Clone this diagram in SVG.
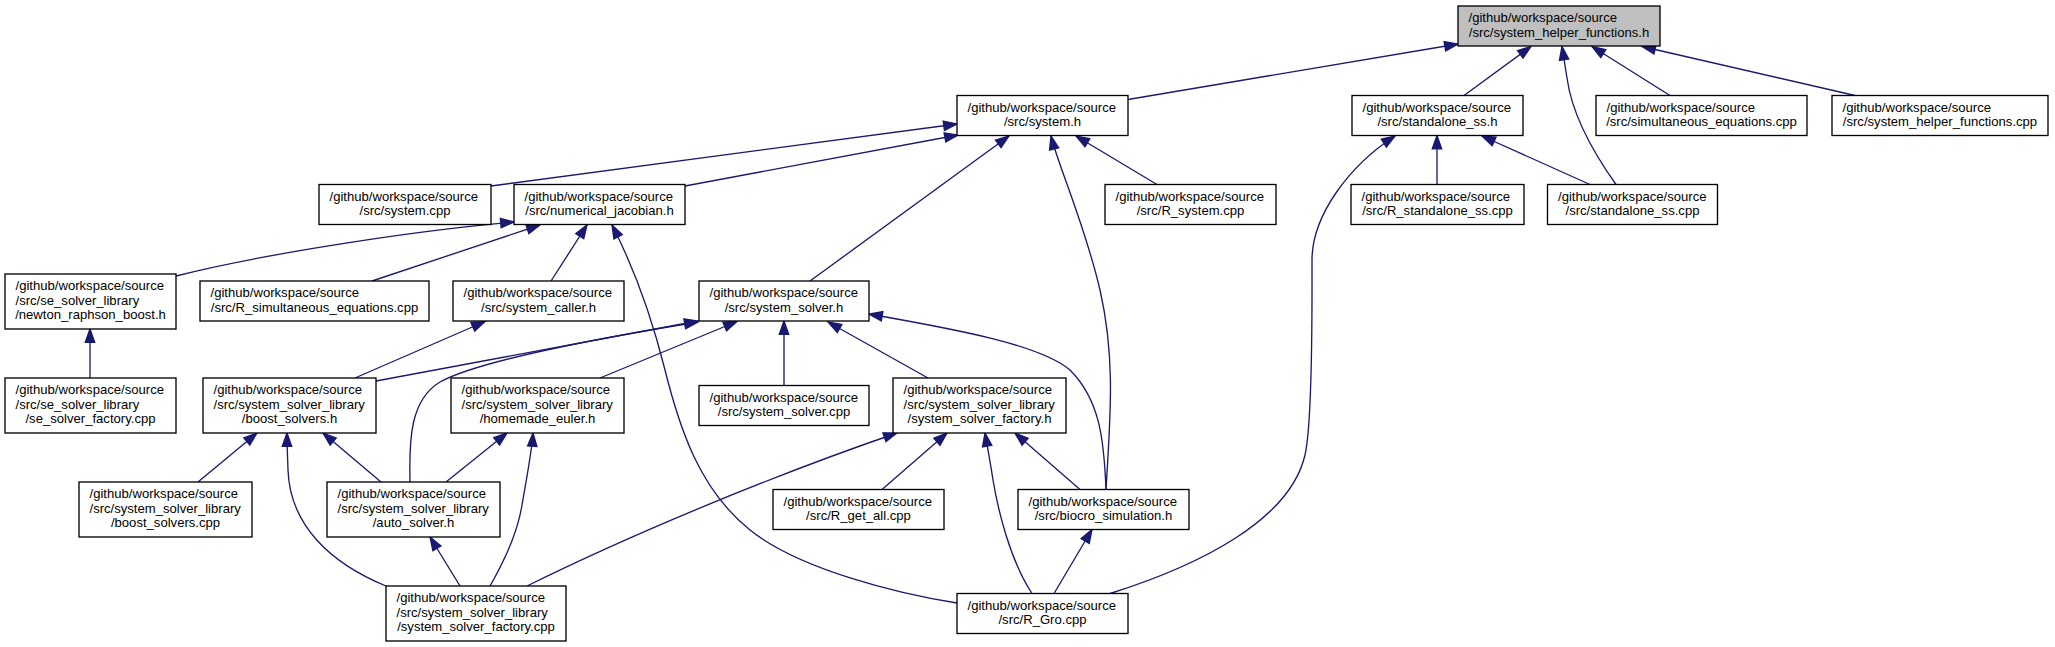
<svg xmlns="http://www.w3.org/2000/svg" width="2055" height="647" viewBox="0 0 2055 647">
<style>
.node rect{fill:#ffffff;stroke:#000000;stroke-width:1.33}
.node.root rect{fill:#bfbfbf}
.node text{font-family:"Liberation Sans",Arial,Helvetica,sans-serif;font-size:13.1px;fill:#000000}
.node text.c{text-anchor:middle}
.edges path{fill:none;stroke:#191970;stroke-width:1.33;marker-end:url(#arr)}
</style>
<defs>
<marker id="arr" markerUnits="userSpaceOnUse" markerWidth="16" markerHeight="12" refX="13.3" refY="4.7" orient="auto" overflow="visible">
<path d="M0,0 L13.3,4.7 L0,9.4 Z" fill="#191970" stroke="#191970" stroke-width="1.33"/>
</marker>
</defs>
<rect x="0" y="0" width="2055" height="647" fill="#ffffff"/>
<g class="edges">
<path d="M1128,99.5 L1458,44"/>
<path d="M1464,95.5 L1531,46.5"/>
<path d="M1616,184.5 C1595,155 1572,115 1567,78 L1562,46.5"/>
<path d="M1670,95.5 L1592,46.5"/>
<path d="M1855,95.5 L1642,46.5"/>
<path d="M491,186 L957,124"/>
<path d="M685,186 L958,135"/>
<path d="M810,281 L1009,136"/>
<path d="M1106,489.5 C1110,420 1116,360 1100,290 C1085,225 1058,165 1051,136"/>
<path d="M1157,184.5 L1076,136"/>
<path d="M1437,184.5 L1437,135.5"/>
<path d="M1590,184.5 L1482,136"/>
<path d="M1110,593.5 C1200,565 1290,520 1305,455 C1313,420 1312,300 1312,260 C1312,215 1350,165 1395,136"/>
<path d="M176,276 C250,257 400,232 514,222"/>
<path d="M372,281 L540,225"/>
<path d="M551,281 L587,225"/>
<path d="M957,603 C900,594 800,570 750,530 C700,490 680,430 665,370 C650,310 630,260 612,225"/>
<path d="M90,378 L90,329"/>
<path d="M355,378 L485,321.5"/>
<path d="M376,381 L698,321"/>
<path d="M410,482 C409,440 410,400 440,382 C480,360 600,338 698,322"/>
<path d="M600,378 L737,321.5"/>
<path d="M784,385.5 L784,321"/>
<path d="M928,378 L828,322"/>
<path d="M1106,489.5 C1104,440 1100,400 1070,370 C1040,345 960,330 869,314"/>
<path d="M198,482 L257,433"/>
<path d="M381,482 L323,433"/>
<path d="M386,586 C330,563 290,525 288,470 C287.5,455 287,445 287,433"/>
<path d="M446,482 L507,433"/>
<path d="M490,586 C505,560 518,530 522,505 C528,470 532,450 533,433"/>
<path d="M460,586 L430,537"/>
<path d="M527,586 C620,540 760,480 897,433"/>
<path d="M882,489.5 L947,433"/>
<path d="M1080,489.5 L1015,433"/>
<path d="M1032,593.5 C1010,560 998,510 993,480 C990,460 987,445 985,433"/>
<path d="M1054,593.5 L1092,529.5"/>
</g>
<g id="node_system_helper_functions_h" class="node root"><rect x="1458" y="6" width="202" height="40"/><text x="1468.5" y="22">/github/workspace/source</text><text class="c" x="1559" y="36.65">/src/system_helper_functions.h</text></g>
<g id="node_system_h" class="node"><rect x="957" y="95.5" width="171" height="40"/><text x="967.5" y="111.5">/github/workspace/source</text><text class="c" x="1042.5" y="126.15">/src/system.h</text></g>
<g id="node_standalone_ss_h" class="node"><rect x="1352" y="95.5" width="171" height="40"/><text x="1362.5" y="111.5">/github/workspace/source</text><text class="c" x="1437.5" y="126.15">/src/standalone_ss.h</text></g>
<g id="node_simultaneous_equations_cpp" class="node"><rect x="1596" y="95.5" width="211" height="40"/><text x="1606.5" y="111.5">/github/workspace/source</text><text class="c" x="1701.5" y="126.15">/src/simultaneous_equations.cpp</text></g>
<g id="node_system_helper_functions_cpp" class="node"><rect x="1832" y="95.5" width="216" height="40"/><text x="1842.5" y="111.5">/github/workspace/source</text><text class="c" x="1940" y="126.15">/src/system_helper_functions.cpp</text></g>
<g id="node_system_cpp" class="node"><rect x="319" y="184.5" width="172" height="40"/><text x="329.5" y="200.5">/github/workspace/source</text><text class="c" x="405" y="215.15">/src/system.cpp</text></g>
<g id="node_numerical_jacobian_h" class="node"><rect x="514" y="184.5" width="171" height="40"/><text x="524.5" y="200.5">/github/workspace/source</text><text class="c" x="599.5" y="215.15">/src/numerical_jacobian.h</text></g>
<g id="node_R_system_cpp" class="node"><rect x="1105" y="184.5" width="171" height="40"/><text x="1115.5" y="200.5">/github/workspace/source</text><text class="c" x="1190.5" y="215.15">/src/R_system.cpp</text></g>
<g id="node_R_standalone_ss_cpp" class="node"><rect x="1351" y="184.5" width="173" height="40"/><text x="1361.5" y="200.5">/github/workspace/source</text><text class="c" x="1437.5" y="215.15">/src/R_standalone_ss.cpp</text></g>
<g id="node_standalone_ss_cpp" class="node"><rect x="1547.5" y="184.5" width="170" height="40"/><text x="1558" y="200.5">/github/workspace/source</text><text class="c" x="1632.5" y="215.15">/src/standalone_ss.cpp</text></g>
<g id="node_newton_raphson_boost_h" class="node"><rect x="5" y="274" width="171" height="55"/><text x="15.5" y="290">/github/workspace/source</text><text x="15.5" y="304.65">/src/se_solver_library</text><text class="c" x="90.5" y="319.3">/newton_raphson_boost.h</text></g>
<g id="node_R_simultaneous_equations_cpp" class="node"><rect x="200" y="281" width="229" height="40"/><text x="210.5" y="297">/github/workspace/source</text><text class="c" x="314.5" y="311.65">/src/R_simultaneous_equations.cpp</text></g>
<g id="node_system_caller_h" class="node"><rect x="453" y="281" width="171" height="40"/><text x="463.5" y="297">/github/workspace/source</text><text class="c" x="538.5" y="311.65">/src/system_caller.h</text></g>
<g id="node_system_solver_h" class="node"><rect x="699" y="281" width="170" height="40"/><text x="709.5" y="297">/github/workspace/source</text><text class="c" x="784" y="311.65">/src/system_solver.h</text></g>
<g id="node_se_solver_factory_cpp" class="node"><rect x="5" y="378" width="171" height="55"/><text x="15.5" y="394">/github/workspace/source</text><text x="15.5" y="408.65">/src/se_solver_library</text><text class="c" x="90.5" y="423.3">/se_solver_factory.cpp</text></g>
<g id="node_boost_solvers_h" class="node"><rect x="203" y="378" width="173" height="55"/><text x="213.5" y="394">/github/workspace/source</text><text x="213.5" y="408.65">/src/system_solver_library</text><text class="c" x="289.5" y="423.3">/boost_solvers.h</text></g>
<g id="node_homemade_euler_h" class="node"><rect x="451" y="378" width="173" height="55"/><text x="461.5" y="394">/github/workspace/source</text><text x="461.5" y="408.65">/src/system_solver_library</text><text class="c" x="537.5" y="423.3">/homemade_euler.h</text></g>
<g id="node_system_solver_cpp" class="node"><rect x="699" y="385.5" width="170" height="40"/><text x="709.5" y="401.5">/github/workspace/source</text><text class="c" x="784" y="416.15">/src/system_solver.cpp</text></g>
<g id="node_system_solver_factory_h" class="node"><rect x="893" y="378" width="173" height="55"/><text x="903.5" y="394">/github/workspace/source</text><text x="903.5" y="408.65">/src/system_solver_library</text><text class="c" x="979.5" y="423.3">/system_solver_factory.h</text></g>
<g id="node_boost_solvers_cpp" class="node"><rect x="79" y="482" width="173" height="55"/><text x="89.5" y="498">/github/workspace/source</text><text x="89.5" y="512.65">/src/system_solver_library</text><text class="c" x="165.5" y="527.3">/boost_solvers.cpp</text></g>
<g id="node_auto_solver_h" class="node"><rect x="327" y="482" width="173" height="55"/><text x="337.5" y="498">/github/workspace/source</text><text x="337.5" y="512.65">/src/system_solver_library</text><text class="c" x="413.5" y="527.3">/auto_solver.h</text></g>
<g id="node_R_get_all_cpp" class="node"><rect x="773" y="489.5" width="171" height="40"/><text x="783.5" y="505.5">/github/workspace/source</text><text class="c" x="858.5" y="520.15">/src/R_get_all.cpp</text></g>
<g id="node_biocro_simulation_h" class="node"><rect x="1018" y="489.5" width="171" height="40"/><text x="1028.5" y="505.5">/github/workspace/source</text><text class="c" x="1103.5" y="520.15">/src/biocro_simulation.h</text></g>
<g id="node_system_solver_factory_cpp" class="node"><rect x="386" y="586" width="180" height="55"/><text x="396.5" y="602">/github/workspace/source</text><text x="396.5" y="616.65">/src/system_solver_library</text><text class="c" x="476" y="631.3">/system_solver_factory.cpp</text></g>
<g id="node_R_Gro_cpp" class="node"><rect x="957" y="593.5" width="171" height="40"/><text x="967.5" y="609.5">/github/workspace/source</text><text class="c" x="1042.5" y="624.15">/src/R_Gro.cpp</text></g>
</svg>
